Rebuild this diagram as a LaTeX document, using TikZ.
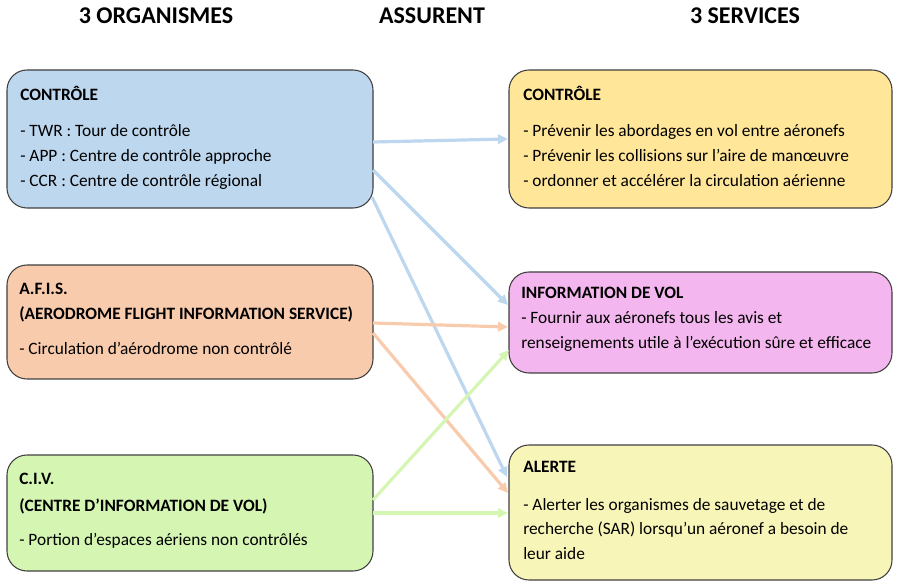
\documentclass[tikz,border=0pt]{standalone}
\usepackage{fontspec}
\setmainfont{Carlito}
\usetikzlibrary{arrows.meta,fit}
\definecolor{fblue}{HTML}{BDD7EE}
\definecolor{forange}{HTML}{F8CBAD}
\definecolor{fgreen}{HTML}{D5F6B3}
\definecolor{fgold}{HTML}{FFE699}
\definecolor{fpink}{HTML}{F4B6EE}
\definecolor{fyellow}{HTML}{F8F5B8}
\definecolor{edge}{HTML}{404040}
\definecolor{ablue}{HTML}{BDD7EE}
\definecolor{aorange}{HTML}{F8CBAD}
\definecolor{agreen}{HTML}{D5F6B3}
\tikzset{
  box/.style={draw=edge, line width=0.8pt, rounded corners=15pt, inner sep=0pt},
  txt/.style={anchor=base west, inner sep=0pt, font=\fontsize{13pt}{15pt}\selectfont},
  head/.style={anchor=center, inner sep=0pt, font=\fontsize{18pt}{20pt}\selectfont\bfseries},
  conn/.style={line width=2.4pt, -{Triangle[length=7.5pt,width=7pt]}, shorten >=0pt},
}
\begin{document}
\begin{tikzpicture}[x=0.75pt,y=-0.75pt]
\useasboundingbox (0,0) rectangle (901,588);
% headings
\node[head] (h1) at (156,16) {3 ORGANISMES};
\node[head] (h2) at (432,16) {ASSURENT};
\node[head] (h3) at (745,16) {3 SERVICES};
% left boxes
\node[box, fill=fblue, fit={(7,70) (373,208)}] (lb1) {};
\node[box, fill=forange, fit={(7,265) (373,379)}] (lb2) {};
\node[box, fill=fgreen, fit={(7,455) (373,571)}] (lb3) {};
% right boxes
\node[box, fill=fgold, fit={(509,70) (892,208)}] (rb1) {};
\node[box, fill=fpink, fit={(509,272) (892,373)}] (rb2) {};
\node[box, fill=fyellow, fit={(509,445) (892,580)}] (rb3) {};
% left texts
\node[txt] (l1a) at (20,100.5) {\textbf{CONTRÔLE}};
\node[txt] (l1b) at (20,136.5) {- TWR : Tour de contrôle};
\node[txt] (l1c) at (20,161.5) {- APP : Centre de contrôle approche};
\node[txt] (l1d) at (20,186.5) {- CCR : Centre de contrôle régional};
\node[txt] (l2a) at (19,294.5) {\textbf{A.F.I.S.}};
\node[txt] (l2b) at (19,319.5) {\textbf{(AERODROME FLIGHT INFORMATION SERVICE)}};
\node[txt] (l2c) at (19,354.5) {- Circulation d’aérodrome non contrôlé};
\node[txt] (l3a) at (19,484.5) {\textbf{C.I.V.}};
\node[txt] (l3b) at (19,511) {\textbf{(CENTRE D’INFORMATION DE VOL)}};
\node[txt] (l3c) at (19,545) {- Portion d’espaces aériens non contrôlés};
% right texts
\node[txt] (r1a) at (523,100.5) {\textbf{CONTRÔLE}};
\node[txt] (r1b) at (523,136.5) {- Prévenir les abordages en vol entre aéronefs};
\node[txt] (r1c) at (523,161.5) {- Prévenir les collisions sur l’aire de manœuvre};
\node[txt] (r1d) at (523,186.5) {- ordonner et accélérer la circulation aérienne};
\node[txt] (r2a) at (521,298.5) {\textbf{INFORMATION DE VOL}};
\node[txt] (r2b) at (521,324) {- Fournir aux aéronefs tous les avis et};
\node[txt] (r2c) at (521,348.5) {renseignements utile à l’exécution sûre et efficace};
\node[txt] (r3a) at (523,473) {\textbf{ALERTE}};
\node[txt] (r3b) at (523,510.5) {- Alerter les organismes de sauvetage et de};
\node[txt] (r3c) at (523,534.5) {recherche (SAR) lorsqu’un aéronef a besoin de};
\node[txt] (r3d) at (523,559) {leur aide};
% connector end points
\coordinate (b1s) at (373,142);
\coordinate (b1e) at (508,139);
\coordinate (b2s) at (373,170);
\coordinate (b2e) at (508,305);
\coordinate (b3s) at (372,197);
\coordinate (b3e) at (507,477);
\coordinate (o1s) at (373,323);
\coordinate (o1e) at (508,327);
\coordinate (o2s) at (373,333);
\coordinate (o2e) at (508,493);
\coordinate (g1s) at (373,500);
\coordinate (g1e) at (509,350);
\coordinate (g2s) at (373,513);
\coordinate (g2e) at (508,513);
% connectors
\draw[conn, ablue] (b1s) -- (b1e);
\draw[conn, ablue] (b2s) -- (b2e);
\draw[conn, ablue] (b3s) -- (b3e);
\draw[conn, aorange] (o1s) -- (o1e);
\draw[conn, aorange] (o2s) -- (o2e);
\draw[conn, agreen] (g1s) -- (g1e);
\draw[conn, agreen] (g2s) -- (g2e);
\end{tikzpicture}
\end{document}
